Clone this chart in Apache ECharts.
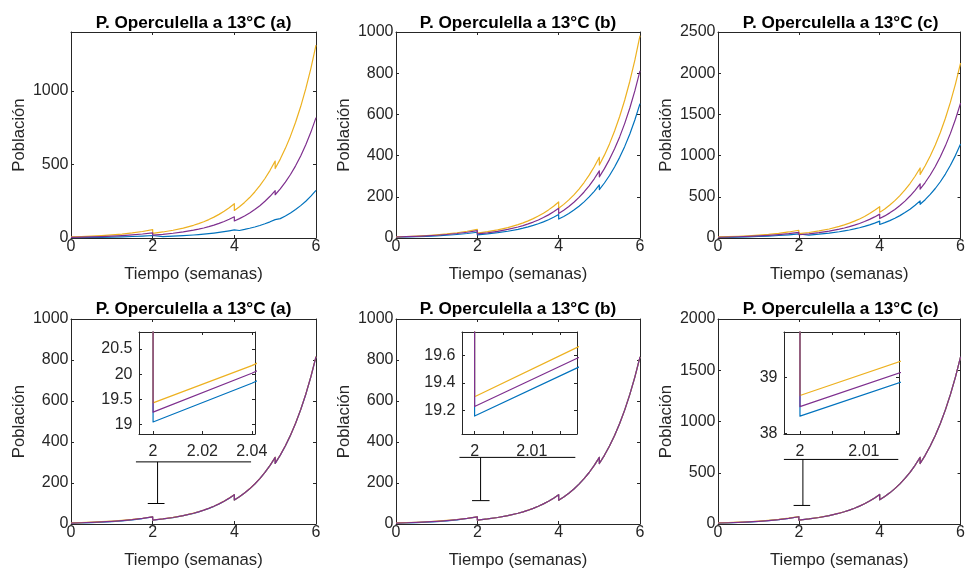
<!DOCTYPE html>
<html><head><meta charset="utf-8">
<script src="https://cdn.jsdelivr.net/npm/echarts@6/dist/echarts.min.js"></script>
<style>html,body{margin:0;padding:0;background:#fff}#c{width:968px;height:574px}</style>
</head><body><div id="c"></div>
<script>
// ---------- time axes (weeks) ----------
const weeks = [0,0.25,0.5,0.75,1,1.25,1.5,1.75,2, 2,2.25,2.5,2.75,3,3.125,3.25,3.375,3.5,3.625,3.75,3.875,4, 4,4.125,4.25,4.375,4.5,4.625,4.75,4.875,5, 5,5.125,5.25,5.375,5.5,5.625,5.75,5.875,6];
const weeksA = [0,0.25,0.5,0.75,1,1.25,1.5,1.75,2, 2,2.04,2.25,2.5,2.75,3,3.125,3.25,3.375,3.5,3.625,3.75,3.875,4, 4,4.125,4.25,4.375,4.5,4.625,4.75,4.875,5, 5,5.125,5.25,5.375,5.5,5.625,5.75,5.875,6];
const weeksBC = [0,0.25,0.5,0.75,1,1.25,1.5,1.75,2, 2,2.02,2.25,2.5,2.75,3,3.125,3.25,3.375,3.5,3.625,3.75,3.875,4, 4,4.125,4.25,4.375,4.5,4.625,4.75,4.875,5, 5,5.125,5.25,5.375,5.5,5.625,5.75,5.875,6];

// ---------- top row (a) ----------
const blueTA   = [2.3,2.95,3.79,4.87,6.25,8.03,10.31,13.24,17, 7.5,9.62,12.34,15.83,20.31,23.00,26.06,29.52,33.43,37.86,42.88,48.57,55, 45,51.1,58.1,66.0,75.0,85.2,96.8,110.0,125, 116,131.8,149.8,170.2,193.6,220.0,250.0,284.1,323];
const orangeTA = [7.7,9.9,12.7,16.3,20.9,26.9,34.5,44.3,57, 32,41.0,52.6,67.4,86.3,97.7,110.6,125.2,141.8,160.5,181.7,205.7,233, 187,212.7,241.8,275.0,312.7,355.6,404.4,459.9,523, 472,536.2,609.2,692.1,786.3,893.3,1014.9,1153.0,1310];
const purpleTA = [4.7,6.04,7.76,9.98,12.83,16.49,21.19,27.23,35, 19.6,25.15,32.27,41.41,53.13,60.18,68.17,77.22,87.47,99.08,112.2,127.1,144, 116,131.8,149.7,170.1,193.3,219.6,249.5,283.5,322, 294,334.1,379.7,431.5,490.4,557.3,633.4,719.8,818];
// ---------- top row (b) ----------
const blueTB   = [3.8,4.88,6.26,8.04,10.32,13.25,17.01,21.84,28, 15.6,20.0,25.65,32.89,42.17,47.75,54.08,61.24,69.34,78.52,88.92,100.7,114, 92,104.7,119.1,135.5,154.1,175.3,199.4,226.8,258, 235,267.0,303.3,344.6,391.4,444.7,505.2,574.0,652];
const orangeTB = [5.7,7.32,9.39,12.06,15.48,19.88,25.52,32.76,42, 24,30.77,39.44,50.55,64.8,73.37,83.07,94.05,106.5,120.6,136.5,154.5,175, 144,163.2,185.0,209.7,237.6,269.3,305.2,345.9,392, 354,402.2,456.9,519.1,589.6,669.9,761.0,864.6,982];
const purpleTB = [4.9,6.29,8.07,10.35,13.28,17.04,21.86,28.05,36, 19.7,25.26,32.39,41.54,53.26,60.31,68.30,77.34,87.58,99.18,112.3,127.2,144, 119,135.0,153.1,173.6,197.0,223.4,253.4,287.4,326, 297,336.7,381.8,432.9,490.8,556.5,630.9,715.3,811];
// ---------- top row (c) ----------
const blueTC   = [6.8,8.73,11.20,14.37,18.44,23.66,30.37,38.97,50, 28,35.91,46.06,59.08,75.77,85.81,97.18,110.1,124.6,141.1,159.9,181.1,205, 164,186.1,211.1,239.5,271.7,308.2,349.7,396.7,450, 409,464.9,528.5,600.8,682.8,776.1,882.3,1002.9,1140];
const orangeTC = [12.7,16.31,20.95,26.90,34.55,44.37,56.99,73.19,94, 52,66.68,85.50,109.6,140.6,159.2,180.3,204.2,231.2,261.8,296.4,335.6,380, 311,352.6,399.9,453.4,514.2,583.1,661.1,749.6,850, 772,876.1,994.2,1128.2,1280.3,1452.9,1648.8,1871.1,2123];
const purpleTC = [9.3,11.95,15.35,19.72,25.33,32.54,41.81,53.71,69, 39.5,50.68,65.02,83.42,107.0,121.2,137.3,155.5,176.2,199.6,226.0,256.0,290, 236,268.3,305.0,346.7,394.1,448.0,509.2,578.9,658, 593,673.2,764.3,867.7,985.0,1118.3,1269.5,1441.3,1636];
// ---------- bottom row (a) ----------
const blueBA   = [4.0,5.25,6.88,9.02,11.83,15.51,20.34,26.68,35.0, 19.05,19.82,24.50,31.5,40.5,52.1,59.1,67.0,76.0,86.2,97.8,110.9,125.8,142.6, 116.7,132.6,150.7,171.3,194.7,221.2,251.4,285.6,324.6, 295.6,335.5,380.9,432.3,490.8,557.1,632.6,718.1,815.3];
const orangeBA = [5.6,7.05,8.87,11.17,14.06,17.69,22.27,28.03,35.3, 19.43,20.17,24.90,31.95,41.0,52.7,59.7,67.6,76.6,86.8,98.4,111.5,126.4,143.2, 117.1,133.0,151.1,171.7,195.1,221.7,251.9,286.2,325.2, 296.2,336.2,381.6,433.1,491.7,558.1,633.5,719.1,816.5];
const purpleBA = [4.7,6.04,7.76,9.98,12.83,16.49,21.19,27.23,35, 19.245,20.02,24.73,31.77,40.82,52.46,59.46,67.40,76.40,86.60,98.16,111.3,126.2,143, 117,132.9,151.0,171.6,195.0,221.6,251.8,286.1,325, 296,336.0,381.4,432.9,491.4,557.8,633.2,718.7,816];
// ---------- bottom row (b) ----------
const blueBB   = [4.1,5.36,7.01,9.16,11.98,15.66,20.48,26.77,35.0, 19.16,19.55,24.64,31.68,40.74,52.38,59.38,67.33,76.33,86.54,98.1,111.2,126.1,143.0, 116,131.9,150.1,170.7,194.2,220.9,251.2,285.7,325, 295,335.0,380.3,431.8,490.4,556.8,632.3,718.0,815];
const orangeBB = [5.4,6.82,8.62,10.90,13.77,17.40,21.98,27.78,35.1, 19.30,19.70,24.78,31.82,40.86,52.48,59.48,67.41,76.4,86.6,98.2,111.2,126.1,143.0, 116,131.9,150.1,170.7,194.2,220.9,251.2,285.7,325, 295,335.0,380.3,431.8,490.4,556.8,632.3,718.0,815];
const purpleBB = [4.75,6.10,7.83,10.05,12.91,16.57,21.28,27.32,35, 19.23,19.62,24.71,31.75,40.80,52.43,59.43,67.37,76.37,86.57,98.13,111.2,126.1,143, 116,131.9,150.1,170.7,194.2,220.9,251.2,285.7,325, 295,335.0,380.3,431.8,490.4,556.8,632.3,718.0,815];
// ---------- bottom row (c) ----------
const blueBC   = [8.5,11.08,14.45,18.84,24.57,32.04,41.78,54.48,71, 38.31,39.08,49.27,63.43,81.65,105.1,119.2,135.2,153.4,173.9,197.3,223.8,253.8,287.9, 236,267.9,304.0,345.0,391.7,444.6,504.6,572.7,650, 590,669.9,760.7,863.8,980.7,1113.6,1264.4,1435.7,1630];
const orangeBC = [11,13.90,17.55,22.17,28.01,35.38,44.69,56.45,71.3, 38.68,39.46,49.7,63.85,82.05,105.5,119.6,135.6,153.8,174.3,197.7,224.0,254.0,288.1, 236,267.9,304.0,345.0,391.7,444.6,504.6,572.7,650, 590,669.9,760.7,863.8,980.7,1113.6,1264.4,1435.7,1630];
const purpleBC = [9.6,12.33,15.83,20.33,26.11,33.53,43.06,55.29,71, 38.48,39.26,49.49,63.65,81.86,105.3,119.4,135.4,153.6,174.1,197.5,223.9,253.9,288, 236,267.9,304.0,345.0,391.7,444.6,504.6,572.7,650, 590,669.9,760.7,863.8,980.7,1113.6,1264.4,1435.7,1630];

// ---------- zoom callouts (data coordinates of main axes) ----------
const calloutA = [[[1.59,303],[4.41,303]], [[2.12,303],[2.12,100]], [[1.88,100],[2.29,100]]];
const calloutB = [[[1.56,325],[4.41,325]], [[2.08,325],[2.08,114]], [[1.87,114],[2.30,114]]];
const calloutC = [[[1.63,630],[4.46,630]], [[2.10,630],[2.10,181]], [[1.87,181],[2.28,181]]];

// ---------- ticks ----------
const xTicks = [0,2,4,6];
const yTicksTA = [0,500,1000];
const yTicksTB = [0,200,400,600,800,1000];
const yTicksTC = [0,500,1000,1500,2000,2500];
const yTicksBA = [0,200,400,600,800,1000];
const yTicksBB = [0,200,400,600,800,1000];
const yTicksBC = [0,500,1000,1500,2000];
const inXTicksA = [2,2.02,2.04];
const inXTicksBC = [2,2.005,2.01,2.015];
const inXLabelsBC = [2,2.01];
const inYTicksA = [19,19.5,20,20.5];
const inYTicksB = [19.2,19.4,19.6];
const inYTicksC = [38,39];

const titleText = ['P. Operculella a 13°C (a)','P. Operculella a 13°C (b)','P. Operculella a 13°C (c)'];
const xName = 'Tiempo (semanas)';
const yName = 'Población';

const FONT = "'Liberation Sans', Arial, Helvetica, sans-serif";
const AX = '#262626';
const COLS = ['#0072BD','#EDB120','#7E2F8E'];

const grids=[], xAxes=[], yAxes=[], series=[], titles=[];

function pairs(t, v){ return t.map((x,i)=>[x, v[i]]); }
const fmt = v => String(Math.round(v*10000)/10000);

function addGrid(g, o){
  const gi = grids.length;
  grids.push(Object.assign({}, g, o.inset ? {show:true, backgroundColor:'#fff', borderWidth:0} : {}));
  const ls = {color:AX, width:1};
  const tk = v => ({show:true, inside:true, length:3, lineStyle:{color:AX,width:1}, customValues:v});
  const lbl = (v, m) => ({show:true, customValues:v, margin:m, color:AX, fontSize:16, fontFamily:FONT, formatter:fmt});
  const nts = {color:AX, fontSize:16.7, fontFamily:FONT};
  const xi = xAxes.length, yi = yAxes.length;
  xAxes.push({type:'value', gridIndex:gi, position:'bottom', min:o.x[0], max:o.x[1],
    axisLine:{show:true,onZero:false,lineStyle:ls}, axisTick:tk(o.xt), axisLabel:lbl(o.xl||o.xt, o.xm),
    splitLine:{show:false}, name:o.xName||'', nameLocation:'middle', nameGap:27.5, nameTextStyle:nts});
  xAxes.push({type:'value', gridIndex:gi, position:'top', min:o.x[0], max:o.x[1],
    axisLine:{show:true,onZero:false,lineStyle:ls}, axisTick:tk(o.xt), axisLabel:{show:false}, splitLine:{show:false}});
  yAxes.push({type:'value', gridIndex:gi, position:'left', min:o.y[0], max:o.y[1],
    axisLine:{show:true,onZero:false,lineStyle:ls}, axisTick:tk(o.yt), axisLabel:lbl(o.yt, o.ym),
    splitLine:{show:false}, name:o.yName||'', nameLocation:'middle', nameGap:43, nameTextStyle:nts});
  yAxes.push({type:'value', gridIndex:gi, position:'right', min:o.y[0], max:o.y[1],
    axisLine:{show:true,onZero:false,lineStyle:ls}, axisTick:tk(o.yt), axisLabel:{show:false}, splitLine:{show:false}});
  return {xi, yi};
}
function addLines(ax, t, arrs){
  arrs.forEach((v,k)=>series.push({type:'line', xAxisIndex:ax.xi, yAxisIndex:ax.yi, data:pairs(t,v),
    showSymbol:false, symbol:'none', clip:true, silent:true, animation:false,
    lineStyle:{color:COLS[k], width:1.2, join:'round'}, itemStyle:{color:COLS[k]}}));
}
function addCallout(ax, segs){
  segs.forEach(s=>series.push({type:'line', xAxisIndex:ax.xi, yAxisIndex:ax.yi, data:s,
    showSymbol:false, symbol:'none', clip:false, silent:true, animation:false,
    lineStyle:{color:'#000', width:1}}));
}

const mainPanels = [
  {g:{left:71, top:32, width:245, height:206}, y:[0,1400], yt:yTicksTA, t:weeks, s:[blueTA,orangeTA,purpleTA], title:0},
  {g:{left:396,top:32, width:244, height:206}, y:[0,1000], yt:yTicksTB, t:weeks, s:[blueTB,orangeTB,purpleTB], title:1},
  {g:{left:718,top:32, width:245, height:206}, y:[0,2500], yt:yTicksTC, t:weeks, s:[blueTC,orangeTC,purpleTC], title:2},
  {g:{left:71, top:319,width:245, height:205}, y:[0,1000], yt:yTicksBA, t:weeksA, s:[blueBA,orangeBA,purpleBA], title:0, co:calloutA},
  {g:{left:396,top:319,width:244, height:205}, y:[0,1000], yt:yTicksBB, t:weeksBC, s:[blueBB,orangeBB,purpleBB], title:1, co:calloutB},
  {g:{left:718,top:319,width:245, height:205}, y:[0,2000], yt:yTicksBC, t:weeksBC, s:[blueBC,orangeBC,purpleBC], title:2, co:calloutC}
];
const titleY = [14, 300.5];
mainPanels.forEach((p,i)=>{
  const ax = addGrid(p.g, {x:[0,6], y:p.y, xt:xTicks, yt:p.yt, xm:1, ym:2.5, xName:xName, yName:yName});
  addLines(ax, p.t, p.s);
  if (p.co) addCallout(ax, p.co);
  titles.push({text:titleText[p.title], left:p.g.left + p.g.width/2, top:titleY[i<3?0:1], textAlign:'center', padding:0,
    textStyle:{fontSize:17.2, fontWeight:'bold', color:'#000', fontFamily:FONT, lineHeight:18}});
});

const insets = [
  {g:{left:139, top:332, width:116, height:102}, x:[1.9943,2.0413], y:[18.81,20.84], xt:inXTicksA, xl:inXTicksA, yt:inYTicksA, t:weeksA, s:[blueBA,orangeBA,purpleBA]},
  {g:{left:462, top:332, width:115, height:102}, x:[1.9978,2.0179], y:[19.03,19.77], xt:inXTicksBC, xl:inXLabelsBC, yt:inYTicksB, t:weeksBC, s:[blueBB,orangeBB,purpleBB]},
  {g:{left:784, top:332, width:115, height:102}, x:[1.9975,2.0155], y:[37.99,39.82], xt:inXTicksBC, xl:inXLabelsBC, yt:inYTicksC, t:weeksBC, s:[blueBC,orangeBC,purpleBC]}
];
insets.forEach(p=>{
  const ax = addGrid(p.g, {inset:true, x:p.x, y:p.y, xt:p.xt, xl:p.xl, yt:p.yt, xm:9.5, ym:6.5});
  addLines(ax, p.t, p.s);
});

const chart = echarts.init(document.getElementById('c'), null, {renderer:'canvas'});
chart.setOption({animation:false, backgroundColor:'#fff', title:titles, grid:grids, xAxis:xAxes, yAxis:yAxes, series:series});
</script></body></html>
